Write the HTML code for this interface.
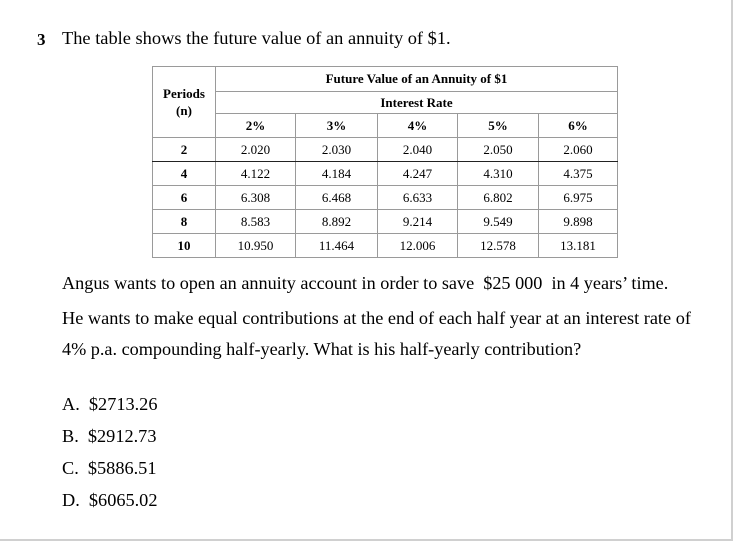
<!DOCTYPE html>
<html><head><meta charset="utf-8"><style>
body{margin:0;background:#fff;}
#page{position:relative;width:734px;height:543px;overflow:hidden;background:#fff;font-family:"Liberation Serif",serif;color:#000;}
#frame{position:absolute;left:0;top:0;width:733px;height:541px;border-right:2px solid #d0d0d0;border-bottom:2px solid #d0d0d0;box-sizing:border-box;}
.t{position:absolute;white-space:nowrap;}
table{position:absolute;left:152px;top:66px;border-collapse:collapse;font-size:13px;}
td{border:1px solid #9a9a9a;text-align:center;padding:0;height:23px;}
.b{font-weight:bold;}
tr.thick td{border-bottom:1.5px solid #222;}
</style></head><body>
<div id="page">
<div id="frame"></div>
<div class="t b" style="left:37px;top:30px;font-size:17px;">3</div>
<div class="t" style="left:62px;top:28px;font-size:18.4px;">The table shows the future value of an annuity of $1.</div>
<table>
<colgroup><col style="width:63px"><col style="width:80px"><col style="width:82px"><col style="width:80px"><col style="width:81px"><col style="width:79px"></colgroup>
<tr><td rowspan="3" class="b" style="line-height:17px">Periods<br>(n)</td><td colspan="5" class="b" style="height:24px">Future Value of an Annuity of $1</td></tr>
<tr><td colspan="5" class="b" style="height:21px">Interest Rate</td></tr>
<tr class="b"><td>2%</td><td>3%</td><td>4%</td><td>5%</td><td>6%</td></tr>
<tr class="thick"><td class="b">2</td><td>2.020</td><td>2.030</td><td>2.040</td><td>2.050</td><td>2.060</td></tr>
<tr><td class="b">4</td><td>4.122</td><td>4.184</td><td>4.247</td><td>4.310</td><td>4.375</td></tr>
<tr><td class="b">6</td><td>6.308</td><td>6.468</td><td>6.633</td><td>6.802</td><td>6.975</td></tr>
<tr><td class="b">8</td><td>8.583</td><td>8.892</td><td>9.214</td><td>9.549</td><td>9.898</td></tr>
<tr><td class="b">10</td><td>10.950</td><td>11.464</td><td>12.006</td><td>12.578</td><td>13.181</td></tr>
</table>
<div class="t" style="left:62px;top:273px;font-size:18.2px;">Angus wants to open an annuity account in order to save &nbsp;$25 000 &nbsp;in 4 years’ time.</div>
<div class="t" style="left:62px;top:308px;font-size:18.3px;">He wants to make equal contributions at the end of each half year at an interest rate of</div>
<div class="t" style="left:62px;top:339px;font-size:18.2px;">4% p.a. compounding half-yearly. What is his half-yearly contribution?</div>
<div class="t" style="left:62px;top:394px;font-size:18.3px;">A.&nbsp; $2713.26</div>
<div class="t" style="left:62px;top:426px;font-size:18.3px;">B.&nbsp; $2912.73</div>
<div class="t" style="left:62px;top:458px;font-size:18.3px;">C.&nbsp; $5886.51</div>
<div class="t" style="left:62px;top:490px;font-size:18.3px;">D.&nbsp; $6065.02</div>
</div>
</body></html>
